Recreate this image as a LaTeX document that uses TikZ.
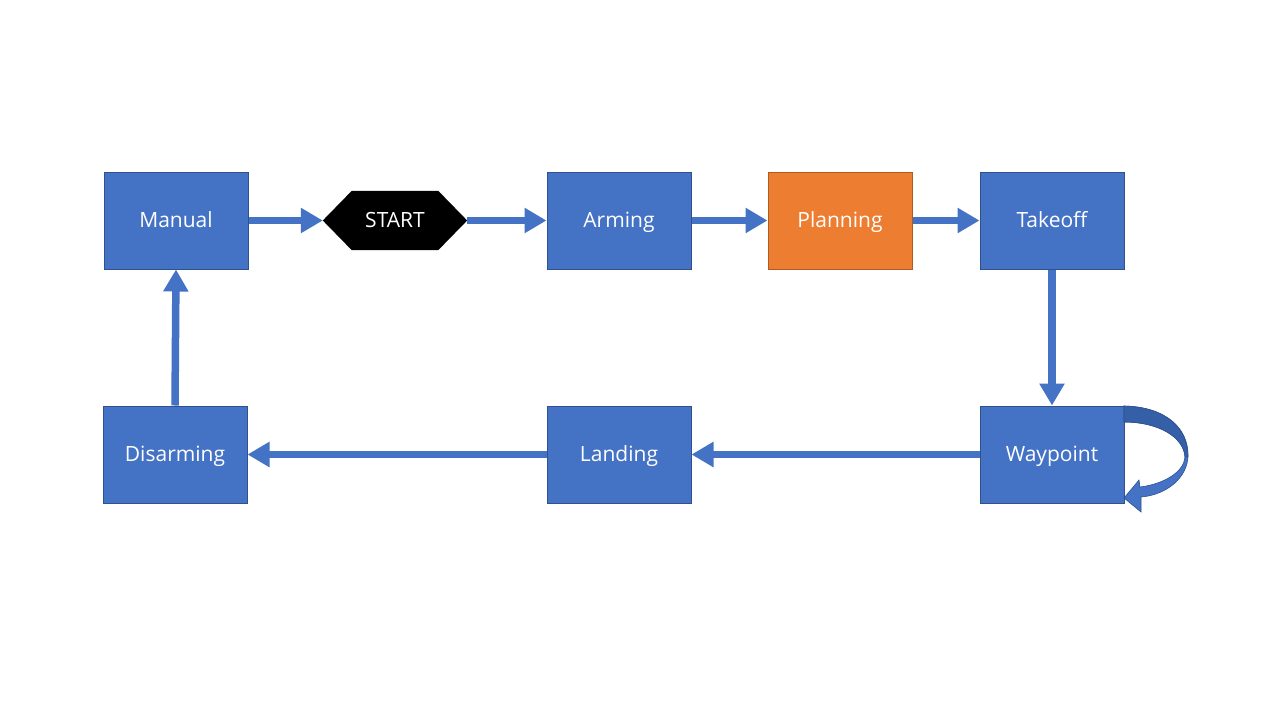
\documentclass[tikz,border=0pt]{standalone}
\usepackage{fontspec}
\setmainfont{Open Sans}
\usetikzlibrary{arrows.meta,positioning}
\definecolor{boxblue}{HTML}{4472C4}
\definecolor{boxedge}{HTML}{2F528F}
\definecolor{boxorange}{HTML}{ED7D31}
\definecolor{orangeedge}{HTML}{AE5A21}
\definecolor{darkband}{HTML}{3560A8}
\tikzset{
  statebox/.style={rectangle, fill=boxblue, draw=boxedge, line width=1pt,
    minimum width=144pt, minimum height=97pt, inner sep=0pt,
    text height=14.6pt, text depth=0pt,
    text=white, font=\fontsize{21}{24}\selectfont},
  planbox/.style={statebox, fill=boxorange, draw=orangeedge},
  startlabel/.style={rectangle, minimum width=144pt, minimum height=59pt, inner sep=0pt,
    text height=14.6pt, text depth=0pt,
    text=white, font=\fontsize{21}{24}\selectfont},
  arr/.style={draw=boxblue, line width=7.5pt,
    -{Triangle[length=22pt,width=24pt]}, shorten >=0pt},
}
\begin{document}
\begin{tikzpicture}[x=1pt,y=-1pt]
\useasboundingbox (0,0) rectangle (1280,720);
\fill[white] (0,0) rectangle (1280,720);

\node[statebox] (manual) at (176,220.5) {Manual};
\node[startlabel] (start) at (395,220.5) {};
\fill[black] (start.west) -- ([xshift=29pt]start.north west) -- ([xshift=-29pt]start.north east)
  -- (start.east) -- ([xshift=-29pt]start.south east) -- ([xshift=29pt]start.south west) -- cycle;
\node[startlabel] at (start) {START};
\node[statebox] (arming) at (619,220.5) {Arming};
\node[planbox] (planning) at (840,220.5) {Planning};
\node[statebox] (takeoff) at (1052,220.5) {Takeoff};
\node[statebox] (waypoint) at (1052,454.5) {Waypoint};
\node[statebox] (landing) at (619,454.5) {Landing};
\node[statebox] (disarming) at (175,454.5) {Disarming};

\draw[arr] (manual.east) -- (start.west);
\draw[arr] (start.east) -- (arming.west);
\draw[arr] (arming.east) -- (planning.west);
\draw[arr] (planning.east) -- (takeoff.west);
\draw[arr] (takeoff.south) -- (waypoint.north);
\draw[arr] (waypoint.west) -- (landing.east);
\draw[arr] (landing.west) -- (disarming.east);
\draw[arr] (disarming.north) -- (manual.south);

% self loop curved arrow on Waypoint
\fill[boxblue, draw=boxedge, line width=0.6pt]
  (1124,406) .. controls (1166,407) and (1188,428) .. (1188,455)
  .. controls (1188,478) and (1166,495) .. (1141,497)
  -- (1141,512) -- (1124,498) -- (1139,480) -- (1140,487)
  .. controls (1164,484) and (1184,472) .. (1185,457)
  .. controls (1184,438) and (1160,422) .. (1124,422) -- cycle;
\fill[darkband, draw=boxedge, line width=0.6pt]
  (1124,406) .. controls (1166,407) and (1188,428) .. (1188,457)
  -- (1185,457)
  .. controls (1184,438) and (1160,422) .. (1124,422) -- cycle;
\end{tikzpicture}
\end{document}
